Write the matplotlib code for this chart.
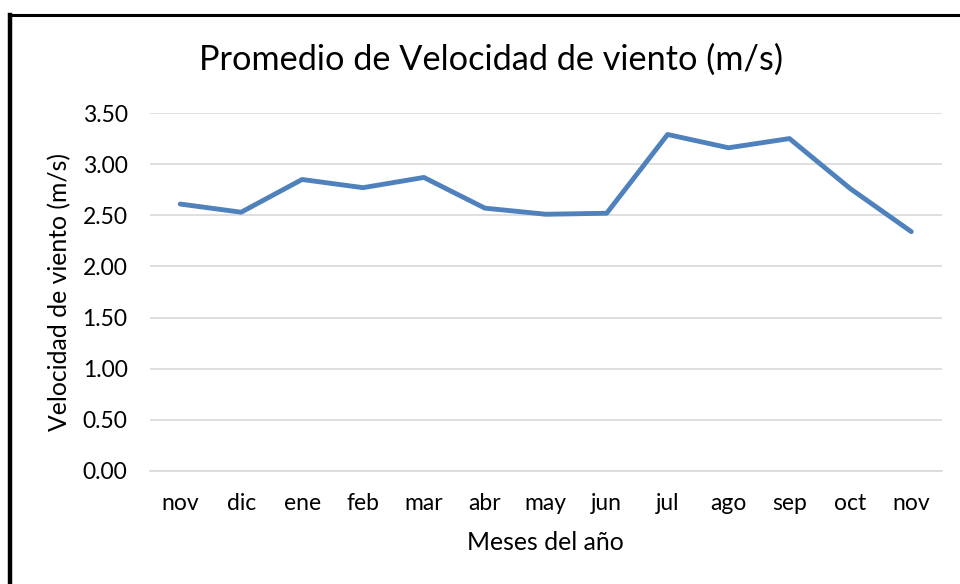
import matplotlib
matplotlib.use("Agg")
import matplotlib.pyplot as plt
from matplotlib.lines import Line2D

months = ["nov", "dic", "ene", "feb", "mar", "abr", "may", "jun",
          "jul", "ago", "sep", "oct", "nov"]
velocidad = [2.61, 2.53, 2.85, 2.77, 2.87, 2.57, 2.51, 2.52,
             3.29, 3.16, 3.25, 2.76, 2.34]
yticks = [0.0, 0.5, 1.0, 1.5, 2.0, 2.5, 3.0, 3.5]

plt.rcParams['font.family'] = ['Lato', 'DejaVu Sans']

fig = plt.figure(figsize=(9.6, 5.84), dpi=100)
ax = fig.add_axes([0.156, 0.1935, 0.825, 0.613])

x = list(range(len(months)))
ax.plot(x, velocidad, color='#4F81BD', linewidth=3.5, solid_joinstyle='round',
        solid_capstyle='round', zorder=3)

ax.set_xlim(-0.5, len(months) - 0.5)
ax.set_ylim(0, 3.5)
ax.set_yticks(yticks)
ax.set_yticklabels([f"{v:.2f}" for v in yticks])
ax.set_xticks(x)
ax.set_xticklabels(months)
ax.yaxis.grid(True, color='#D9D9D9', linewidth=1.2)
ax.set_axisbelow(True)
for s in ax.spines.values():
    s.set_visible(False)
ax.spines['bottom'].set_visible(True)
ax.spines['bottom'].set_color('#D9D9D9')
ax.spines['bottom'].set_linewidth(1.2)
ax.tick_params(length=0, labelsize=16.5, colors='black')
ax.tick_params(axis='y', pad=16)
ax.tick_params(axis='x', pad=16)

fig.text(491 / 960, 1 - 60 / 584, "Promedio de Velocidad de viento (m/s)",
         fontsize=24.7, ha='center', va='center')
ax.set_xlabel("Meses del año", fontsize=17.8, labelpad=12)
ax.set_ylabel("Velocidad de viento (m/s)", fontsize=17.8, labelpad=8)

# black frame on the left and top
fig.add_artist(Line2D([10 / 960, 10 / 960], [0, 1 - 15 / 584], color='black',
                      linewidth=3.2, transform=fig.transFigure))
fig.add_artist(Line2D([9 / 960, 1], [1 - 15 / 584, 1 - 15 / 584], color='black',
                      linewidth=2.2, transform=fig.transFigure))

fig.savefig("out.png", dpi=100, facecolor='white')
